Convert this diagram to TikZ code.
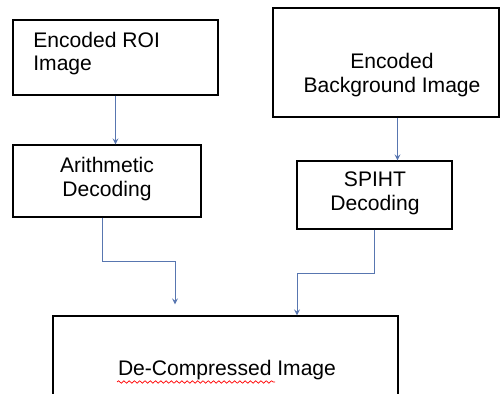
\documentclass[tikz,border=0pt]{standalone}
\usepackage{fontspec}
\setmainfont{Liberation Sans}
\usetikzlibrary{arrows}
\usetikzlibrary{calc}
\usetikzlibrary{decorations.pathmorphing}

\definecolor{flowblue}{RGB}{88,118,176}

\tikzset{
box/.style={draw=black, line width=0.7pt, rectangle, inner sep=0pt},
flow/.style={draw=flowblue, line width=0.5pt, -stealth},
txt/.style={font=\fontsize{12}{13.5}\selectfont, align=center, inner sep=0pt}
}

\begin{document}
\begin{tikzpicture}[x=0.02cm,y=-0.02cm]%decoding side
\useasboundingbox (0,0) rectangle (501,394);
\clip (0,0) rectangle (501,394);
% boxes
\node[box, minimum width=4.1cm, minimum height=1.5cm] (roi) at (115.5,57.5) {};
\node[box, minimum width=3.76cm, minimum height=1.44cm] (arith) at (107,181) {};
\node[box, minimum width=4.52cm, minimum height=2.18cm] (bg) at (386,62.5) {};
\node[box, minimum width=3.1cm, minimum height=1.36cm] (spiht) at (374.5,195) {};
\node[box, minimum width=6.9cm, minimum height=2.48cm] (out) at (225.5,378) {};
% texts
\node[txt, anchor=west, align=left] (roitxt) at (33,53.5) {Encoded ROI\\Image};
\node[txt] (arithtxt) at (107,179) {Arithmetic\\Decoding};
\node[txt] (bgtxt) at (392,75) {Encoded\\Background Image};
\node[txt] (spihttxt) at (375,193) {SPIHT\\Decoding};
\node[txt] (outtxt) at (227,370) {De-Compressed Image};
\draw[red, line width=0.4pt, decorate, decoration={snake, amplitude=0.7pt, segment length=3pt}] (117,382) -- (275,382);
% arrows
\coordinate (bgout) at ($(bg.south)+(11.5,0)$);
\coordinate (arout) at ($(arith.south)+(-5,0)$);
\coordinate (outin) at ($(out.north)+(-50.5,-11)$);
\coordinate (outin2) at ($(out.north)+(71.5,0)$);
\draw[flow] (roi.south) -- (roi.south |- arith.north);
\draw[flow] (bgout) -- (bgout |- spiht.north);
\draw[flow] (arout) -- ++(0,44) -| (outin);
\draw[flow] (spiht.south) -- ++(0,44) -| (outin2);
\end{tikzpicture}
\end{document}
